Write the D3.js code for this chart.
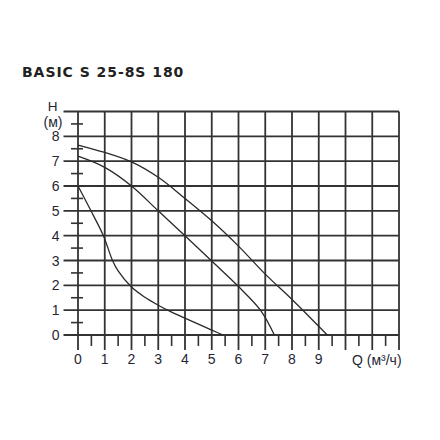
<!DOCTYPE html>
<html>
<head>
<meta charset="utf-8">
<script src="https://cdn.jsdelivr.net/npm/d3@7"></script>
<style>
  html, body { margin: 0; padding: 0; background: #fff; }
  svg { display: block; }
</style>
</head>
<body>
<svg id="chart" width="440" height="440"></svg>
<script>
// ---- data ----
const title = "BASIC S 25-8S 180";
const xTickLabels = [0, 1, 2, 3, 4, 5, 6, 7, 8, 9];
const yTickLabels = [0, 1, 2, 3, 4, 5, 6, 7, 8];
const xLabel = "Q (м³/ч)";
const yLabelTop = "H";
const yLabelUnit = "(м)";
const curveHigh = [[0, 7.65], [1, 7.35], [2, 6.97], [3, 6.35], [4, 5.5], [5, 4.6], [6, 3.58], [7, 2.45], [8, 1.43], [9, 0.35], [9.32, 0]];
const curveMid  = [[0, 7.2], [1, 6.75], [2, 6.0], [3, 5.0], [4, 4.0], [5, 2.98], [6, 1.95], [6.82, 1.0], [7.34, 0]];
const curveLow  = [[0, 6.0], [0.5, 4.97], [0.95, 4.0], [1.29, 3.0], [1.5, 2.58], [2, 1.93], [2.5, 1.52], [3, 1.2], [3.5, 0.92], [4, 0.68], [4.5, 0.44], [5, 0.2], [5.42, 0]];

// ---- layout ----
const svg = d3.select("#chart");
const x = d3.scaleLinear().domain([0, 12]).range([78, 399]);
const y = d3.scaleLinear().domain([0, 9]).range([335, 111.5]);
const gridColor = "#333";
const textColor = "#1f2735";

svg.append("text")
  .attr("x", 22).attr("y", 76.5)
  .attr("font-family", "DejaVu Sans, Verdana, sans-serif")
  .attr("font-weight", "bold")
  .attr("font-size", 14)
  .attr("letter-spacing", 0.95)
  .attr("fill", "#222")
  .text(title);

const g = svg.append("g");

// horizontal grid lines (integers), extend left as major ticks
const hVals = d3.range(0, 10);
g.selectAll("line.h").data(hVals).join("line")
  .attr("x1", 63.5)
  .attr("x2", x(12))
  .attr("y1", d => y(d)).attr("y2", d => y(d))
  .attr("stroke", gridColor).attr("stroke-width", 1.8);

// vertical grid lines (integers), extend below as major ticks
const vVals = d3.range(0, 13);
g.selectAll("line.v").data(vVals).join("line")
  .attr("x1", d => x(d)).attr("x2", d => x(d))
  .attr("y1", y(9)).attr("y2", 350)
  .attr("stroke", gridColor).attr("stroke-width", 1.8);

// minor y ticks (half units), crossing the axis
const yMinor = d3.range(0.5, 9, 1);
g.selectAll("line.ym").data(yMinor).join("line")
  .attr("x1", 71).attr("x2", 83)
  .attr("y1", d => y(d)).attr("y2", d => y(d))
  .attr("stroke", gridColor).attr("stroke-width", 1.6);

// minor x ticks (half units)
const xMinor = d3.range(0.5, 12, 1);
g.selectAll("line.xm").data(xMinor).join("line")
  .attr("x1", d => x(d)).attr("x2", d => x(d))
  .attr("y1", y(0)).attr("y2", 346)
  .attr("stroke", gridColor).attr("stroke-width", 1.6);

// tick labels
g.selectAll("text.yt").data(yTickLabels).join("text")
  .attr("x", 59.5).attr("y", d => y(d)).attr("dy", "0.36em")
  .attr("text-anchor", "end")
  .attr("font-family", "Liberation Sans, Arial, sans-serif")
  .attr("font-size", 14)
  .attr("fill", textColor)
  .text(d => d);

g.selectAll("text.xt").data(xTickLabels).join("text")
  .attr("x", d => x(d)).attr("y", 363.5)
  .attr("text-anchor", "middle")
  .attr("font-family", "Liberation Sans, Arial, sans-serif")
  .attr("font-size", 14)
  .attr("fill", textColor)
  .text(d => d);

svg.append("text")
  .attr("x", 352).attr("y", 365)
  .attr("font-family", "Liberation Sans, Arial, sans-serif")
  .attr("font-size", 14)
  .attr("fill", textColor)
  .text(xLabel);

svg.append("text")
  .attr("x", 52.5).attr("y", 111)
  .attr("text-anchor", "middle")
  .attr("font-family", "Liberation Sans, Arial, sans-serif")
  .attr("font-size", 13.5)
  .attr("fill", textColor)
  .text(yLabelTop);

svg.append("text")
  .attr("x", 53).attr("y", 127)
  .attr("text-anchor", "middle")
  .attr("font-family", "Liberation Sans, Arial, sans-serif")
  .attr("font-size", 14)
  .attr("fill", textColor)
  .text(yLabelUnit);

// curves
const line = d3.line().x(d => x(d[0])).y(d => y(d[1])).curve(d3.curveCatmullRom.alpha(0.5));
[curveHigh, curveMid, curveLow].forEach(c => {
  svg.append("path").datum(c)
    .attr("d", line)
    .attr("fill", "none")
    .attr("stroke", "#2a2a2a")
    .attr("stroke-width", 1.3);
});
</script>
</body>
</html>
